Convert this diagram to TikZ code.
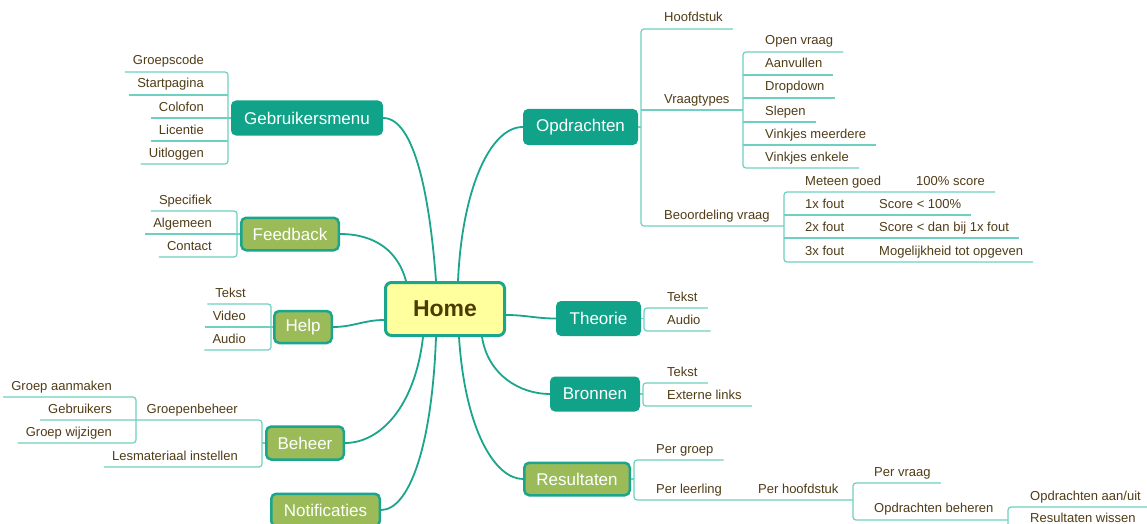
\documentclass[tikz,border=0pt]{standalone}
\usepackage{fontspec}
\setmainfont{Liberation Sans}
\definecolor{tealc}{RGB}{16,163,137}
\definecolor{linkc}{RGB}{26,165,140}
\definecolor{leafc}{RGB}{110,208,192}
\definecolor{greenc}{RGB}{155,187,89}
\definecolor{homec}{RGB}{255,255,158}
\definecolor{txtc}{RGB}{80,60,22}
\definecolor{hometxt}{RGB}{77,60,0}
\begin{document}
\begin{tikzpicture}[x=1pt,y=-1pt,
 box/.style={rounded corners=5pt, minimum height=35pt, inner sep=0pt, text=white, font=\fontsize{17}{17}\selectfont},
 tbox/.style={box, fill=tealc},
 gbox/.style={box, fill=greenc, draw=linkc, line width=2.5pt},
 homebox/.style={rounded corners=6pt, draw=linkc, line width=3pt, fill=homec, minimum width=119pt, minimum height=53pt, text=hometxt, font=\bfseries\fontsize{23}{23}\selectfont},
 link/.style={draw=linkc, line width=1.8pt},
 leafline/.style={draw=leafc, line width=1.2pt, rounded corners=3pt},
 leaf/.style={inner sep=0pt, text=txtc, font=\fontsize{13}{13}\selectfont},
 lt/.style={leaf, anchor=base east},
 rt/.style={leaf, anchor=base west}]
\fill[white] (0,0) rectangle (1147,524);
\useasboundingbox (0,0) rectangle (1147,524);

% main boxes
\node[homebox] (home) at (445,309) {Home};
\node[tbox, minimum width=152pt] (gm) at (307,118) {Gebruikersmenu};
\node[tbox, minimum width=115pt, minimum height=36pt] (opd) at (580.5,127) {Opdrachten};
\node[gbox, minimum width=97.5pt, minimum height=32.5pt] (fb) at (290,234) {Feedback};
\node[gbox, minimum width=57.5pt, minimum height=32pt] (help) at (303,327) {Help};
\node[tbox, minimum width=85pt] (theo) at (598.5,318.5) {Theorie};
\node[tbox, minimum width=90pt] (bron) at (595,394) {Bronnen};
\node[gbox, minimum width=77.5pt, minimum height=33pt] (beh) at (305,443) {Beheer};
\node[gbox, minimum width=105.5pt, minimum height=32.5pt] (res) at (577,479) {Resultaten};
\node[gbox, minimum width=108.5pt, minimum height=32.5pt] (notif) at (325.5,510) {Notificaties};

% links from Home
\draw[link] ([xshift=-9pt]home.north) .. controls +(-6,-81) and +(32,0) .. (gm.east);
\draw[link] ([xshift=-39pt]home.north) .. controls +(-8,-30) and +(35,0) .. (fb.east);
\draw[link] ([xshift=13pt]home.north) .. controls +(4,-91) and +(-33,0) .. (opd.west);
\draw[link] ([yshift=-11pt]home.west) .. controls +(-20,0) and +(20,0) .. (help.east);
\draw[link] ([yshift=-6pt]home.east) .. controls +(20,0) and +(-20,0) .. (theo.west);
\draw[link] ([xshift=37pt]home.south) .. controls +(6,38) and +(-30,0) .. (bron.west);
\draw[link] ([xshift=14pt]home.south) .. controls +(6,93) and +(-28,0) .. (res.west);
\draw[link] ([xshift=-22pt]home.south) .. controls +(-8,70) and +(35,0) .. (beh.east);
\draw[link] ([xshift=-9pt]home.south) .. controls +(-4,110) and +(28,0) .. (notif.east);

% Gebruikersmenu leaves
\node[lt] (gm1) at (204,65) {Groepscode};
\node[lt] (gm2) at (204,88) {Startpagina};
\node[lt] (gm3) at (204,111) {Colofon};
\node[lt] (gm4) at (204,134) {Licentie};
\node[lt] (gm5) at (204,157) {Uitloggen};
\draw[leafline] ([xshift=-8pt,yshift=-7pt]gm1.base west) -- (228,72) -- (228,164) -- ([xshift=-8pt,yshift=-7pt]gm5.base west);
\draw[leafline] ([xshift=-8pt,yshift=-7pt]gm2.base west) -- (228,95);
\draw[leafline] ([xshift=-8pt,yshift=-7pt]gm3.base west) -- (gm.west);
\draw[leafline] ([xshift=-8pt,yshift=-7pt]gm4.base west) -- (228,141);

% Feedback leaves
\node[lt] (f1) at (212,204) {Specifiek};
\node[lt] (f2) at (212,227) {Algemeen};
\node[lt] (f3) at (212,250) {Contact};
\draw[leafline] ([xshift=-8pt,yshift=-7pt]f1.base west) -- (237,211) -- (237,257) -- ([xshift=-8pt,yshift=-7pt]f3.base west);
\draw[leafline] ([xshift=-8pt,yshift=-7pt]f2.base west) -- (fb.west);

% Help leaves
\node[lt] (h1) at (246,297) {Tekst};
\node[lt] (h2) at (246,320) {Video};
\node[lt] (h3) at (246,343) {Audio};
\draw[leafline] ([xshift=-8pt,yshift=-7pt]h1.base west) -- (271,304) -- (271,350) -- ([xshift=-8pt,yshift=-7pt]h3.base west);
\draw[leafline] ([xshift=-8pt,yshift=-7pt]h2.base west) -- (help.west);

% Beheer leaves
\node[lt] (e1) at (238,413) {Groepenbeheer};
\node[lt] (e2) at (238,460) {Lesmateriaal instellen};
\node[lt] (g1) at (112,390) {Groep aanmaken};
\node[lt] (g2) at (112,413) {Gebruikers};
\node[lt] (g3) at (112,436) {Groep wijzigen};
\draw[leafline] ([xshift=-8pt,yshift=-7pt]g2.base west) -- (262,420) -- (262,467) -- ([xshift=-8pt,yshift=-7pt]e2.base west);
\draw[leafline] (262,443) -- (beh.west);
\draw[leafline] ([xshift=-8pt,yshift=-7pt]g1.base west) -- (136,397) -- (136,443) -- ([xshift=-8pt,yshift=-7pt]g3.base west);

% Opdrachten leaves
\node[rt] (o1) at (664,22) {Hoofdstuk};
\node[rt] (o2) at (664,103) {Vraagtypes};
\node[rt] (o3) at (664,219) {Beoordeling vraag};
\draw[leafline] ([xshift=10pt,yshift=-7pt]o1.base east) -- (641,29) -- (641,226) -- (784,226);
\draw[leafline] (opd.east) -- (641,127);
\draw[leafline] (641,110) -- (743,110);

\node[rt] (v1) at (765,45) {Open vraag};
\node[rt] (v2) at (765,68) {Aanvullen};
\node[rt] (v3) at (765,91) {Dropdown};
\node[rt] (v4) at (765,115) {Slepen};
\node[rt] (v5) at (765,138) {Vinkjes meerdere};
\node[rt] (v6) at (765,161) {Vinkjes enkele};
\draw[leafline] ([xshift=10pt,yshift=-7pt]v1.base east) -- (743,52) -- (743,168) -- ([xshift=10pt,yshift=-7pt]v6.base east);
\draw[leafline] (743,75) -- ([xshift=10pt,yshift=-7pt]v2.base east);
\draw[leafline] (743,98) -- ([xshift=10pt,yshift=-7pt]v3.base east);
\draw[leafline] (743,122) -- ([xshift=10pt,yshift=-7pt]v4.base east);
\draw[leafline] (743,145) -- ([xshift=10pt,yshift=-7pt]v5.base east);

\node[rt] (b1) at (805,185) {Meteen goed};
\node[rt] (b1r) at (916,185) {100\% score};
\node[rt] (b2) at (805,208) {1x fout};
\node[rt] (b2r) at (879,208) {Score < 100\%};
\node[rt] (b3) at (805,231) {2x fout};
\node[rt] (b3r) at (879,231) {Score < dan bij 1x fout};
\node[rt] (b4) at (805,255) {3x fout};
\node[rt] (b4r) at (879,255) {Mogelijkheid tot opgeven};
\draw[leafline] ([xshift=10pt,yshift=-7pt]b1r.base east) -- (784,192) -- (784,262) -- ([xshift=10pt,yshift=-7pt]b4r.base east);
\draw[leafline] (784,215) -- ([xshift=10pt,yshift=-7pt]b2r.base east);
\draw[leafline] (784,238) -- ([xshift=10pt,yshift=-7pt]b3r.base east);

% Theorie leaves
\node[rt] (t1) at (667,301) {Tekst};
\node[rt] (t2) at (667,324) {Audio};
\draw[leafline] ([xshift=10pt,yshift=-7pt]t1.base east) -- (644,308) -- (644,331) -- ([xshift=10pt,yshift=-7pt]t2.base east);
\draw[leafline] (theo.east) -- (644,318.5);

% Bronnen leaves
\node[rt] (r1) at (667,376) {Tekst};
\node[rt] (r2) at (667,399) {Externe links};
\draw[leafline] ([xshift=10pt,yshift=-7pt]r1.base east) -- (643,383) -- (643,406) -- ([xshift=10pt,yshift=-7pt]r2.base east);
\draw[leafline] (bron.east) -- (643,394);

% Resultaten leaves
\node[rt] (s1) at (656,453) {Per groep};
\node[rt] (s2) at (656,493) {Per leerling};
\node[rt] (s3) at (758,493) {Per hoofdstuk};
\node[rt] (s4) at (874,476) {Per vraag};
\node[rt] (s5) at (874,512) {Opdrachten beheren};
\node[rt] (s6) at (1030,500) {Opdrachten aan/uit};
\node[rt] (s7) at (1030,522) {Resultaten wissen};
\draw[leafline] ([xshift=10pt,yshift=-7pt]s1.base east) -- (634,460) -- (634,500) -- (853,500);
\draw[leafline] (res.east) -- (634,479);
\draw[leafline] ([xshift=10pt,yshift=-7pt]s4.base east) -- (853,483) -- (853,520) -- (1008,520);
\draw[leafline] ([xshift=10pt,yshift=-7pt]s6.base east) -- (1008,507) -- (1008,529) -- ([xshift=10pt,yshift=-7pt]s7.base east);
\end{tikzpicture}
\end{document}
